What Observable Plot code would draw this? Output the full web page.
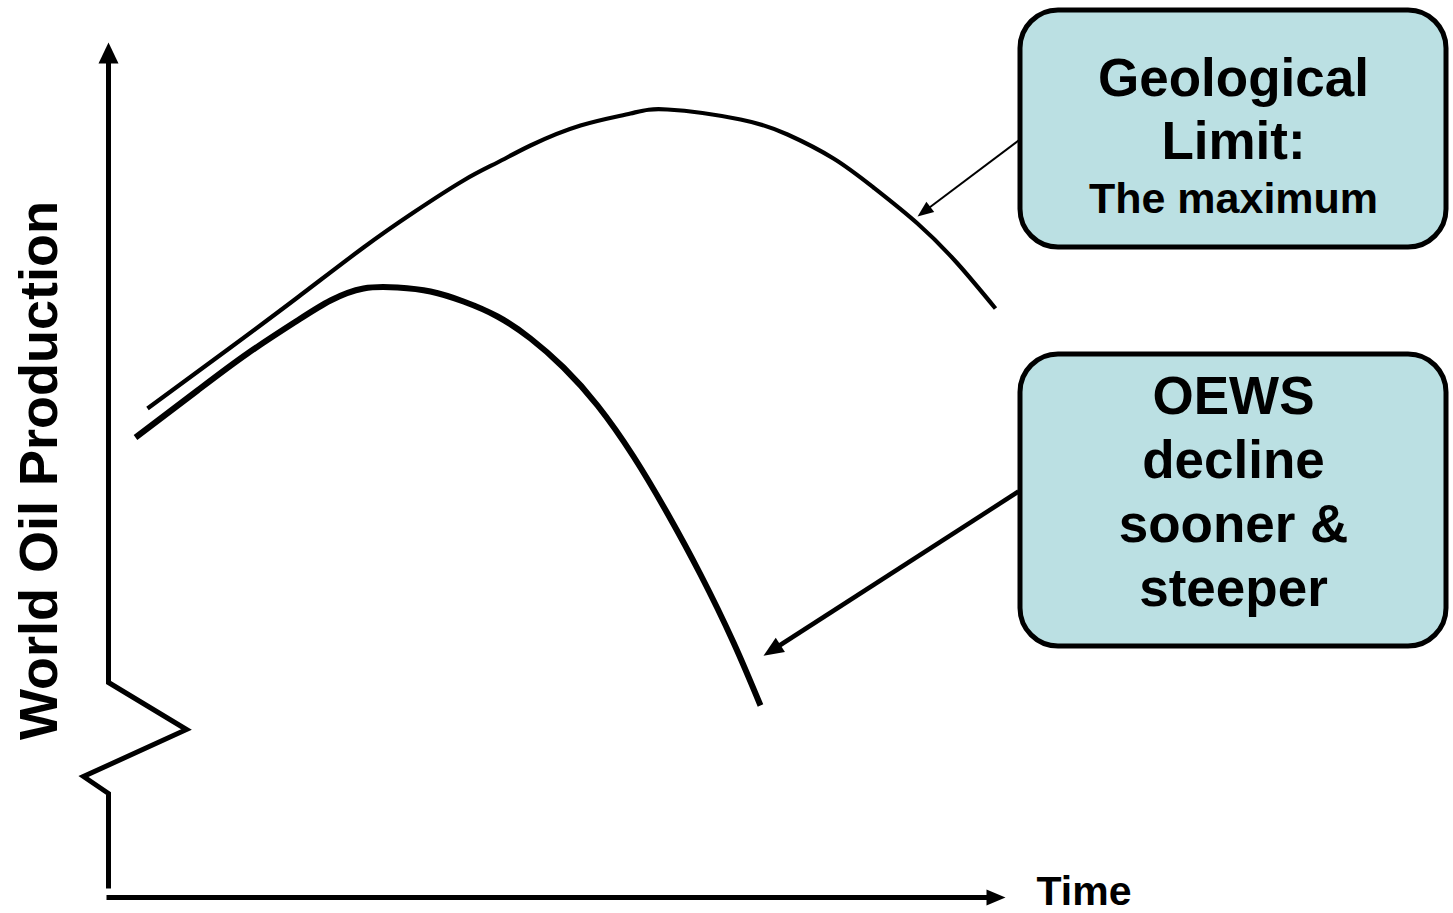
<!DOCTYPE html>
<html>
<head>
<meta charset="utf-8">
<script src="https://cdn.jsdelivr.net/npm/d3@7"></script>
<script src="https://cdn.jsdelivr.net/npm/@observablehq/plot@0.6"></script>
<style>
  html, body { margin: 0; padding: 0; background: #ffffff; }
  #chart { width: 1453px; height: 913px; }
</style>
</head>
<body>
<div id="chart"></div>
<script>
// ---- Data (time units across, production units up) ----
const geoTime = [147, 230, 297, 363, 413, 463, 497, 530, 580, 630, 667, 740, 787, 833, 873, 917, 957, 995];
const geoProd = [505, 566, 616, 666, 701, 733, 751, 768, 788, 800, 804, 794, 779, 755, 726, 690, 650, 605];

const oewsTime = [135, 197, 247, 297, 330, 363, 397, 430, 463, 497, 530, 563, 597, 633, 667, 700, 733, 760];
const oewsProd = [476, 523, 560, 593, 613, 625, 626, 622, 612, 597, 575, 546, 508, 457, 400, 339, 271, 208];

// axis with break (zigzag), drawn bottom -> top
const yAxisTime = [108, 108, 83, 186, 108, 108];
const yAxisProd = [25, 120, 137, 184, 231, 851];
const xAxisTime = [106, 987];
const xAxisProd = [16, 16];

// annotation boxes
const boxNames = ["Geological Limit", "OEWS"];
const boxX1 = [1020, 1020];
const boxX2 = [1446, 1446];
const boxY1 = [666, 267];
const boxY2 = [903, 559];

// pointer arrows from boxes to curves
const arrowX1 = [1018, 1018];
const arrowY1 = [773, 422];
const arrowX2 = [929, 779];
const arrowY2 = [706, 268];
const arrowWidths = [2, 4.5];

// labels
const boxLines = ["Geological", "Limit:", "The maximum", "OEWS", "decline", "sooner &", "steeper"];
const boxLineProd = [818, 755, 701, 500, 436, 372, 308];
const boxLineSize = [53, 53, 43, 53, 53, 53, 53];
const boxCenterTime = 1233;
const yLabel = "World Oil Production";
const xLabel = "Time";

// ---- helpers ----
const toRows = (xs, ys) => xs.map((x, i) => ({x, y: ys[i]}));

// filled triangular arrowhead marker (starts at line end, extends beyond)
function filledHead(len, wid) {
  return (color) => {
    const ns = "http://www.w3.org/2000/svg";
    const m = document.createElementNS(ns, "marker");
    m.setAttribute("viewBox", `0 ${-wid / 2} ${len} ${wid}`);
    m.setAttribute("markerWidth", len);
    m.setAttribute("markerHeight", wid);
    m.setAttribute("markerUnits", "userSpaceOnUse");
    m.setAttribute("orient", "auto");
    m.setAttribute("refX", 1);
    m.setAttribute("refY", 0);
    m.setAttribute("overflow", "visible");
    const p = document.createElementNS(ns, "path");
    p.setAttribute("d", `M0,${-wid / 2}L${len},0L0,${wid / 2}Z`);
    p.setAttribute("fill", color);
    p.setAttribute("stroke", "none");
    m.appendChild(p);
    return m;
  };
}

const boxes = boxNames.map((n, i) => ({n, x1: boxX1[i], x2: boxX2[i], y1: boxY1[i], y2: boxY2[i]}));
const arrows = arrowX1.map((x, i) => ({x1: x, y1: arrowY1[i], x2: arrowX2[i], y2: arrowY2[i], w: arrowWidths[i]}));
const labels = boxLines.map((t, i) => ({t, x: boxCenterTime, y: boxLineProd[i], s: boxLineSize[i]}));

const font = "'Liberation Sans', Arial, Helvetica, sans-serif";

const chart = Plot.plot({
  width: 1453,
  height: 913,
  marginTop: 0, marginRight: 0, marginBottom: 0, marginLeft: 0,
  x: {domain: [0, 1453], axis: null},
  y: {domain: [0, 913], axis: null},
  style: {background: "#ffffff", fontFamily: font, overflow: "visible"},
  marks: [
    // axes
    Plot.line(toRows(yAxisTime, yAxisProd), {
      x: "x", y: "y", stroke: "black", strokeWidth: 5,
      strokeLinecap: "butt", strokeLinejoin: "miter", strokeMiterlimit: 10,
      markerEnd: filledHead(21, 20)
    }),
    Plot.line(toRows(xAxisTime, xAxisProd), {
      x: "x", y: "y", stroke: "black", strokeWidth: 5,
      strokeLinecap: "butt", markerEnd: filledHead(19, 16)
    }),
    // curves
    Plot.line(toRows(geoTime, geoProd), {
      x: "x", y: "y", stroke: "black", strokeWidth: 4.2,
      curve: "natural", strokeLinecap: "butt"
    }),
    Plot.line(toRows(oewsTime, oewsProd), {
      x: "x", y: "y", stroke: "black", strokeWidth: 6,
      curve: "natural", strokeLinecap: "butt"
    }),
    // boxes
    Plot.rect(boxes, {
      x1: "x1", x2: "x2", y1: "y1", y2: "y2",
      fill: "#bbe0e3", stroke: "black", strokeWidth: 5, rx: 38
    }),
    // pointer arrows
    Plot.link([arrows[0]], {
      x1: "x1", y1: "y1", x2: "x2", y2: "y2", stroke: "black",
      strokeWidth: arrows[0].w, strokeLinecap: "butt", markerEnd: filledHead(16, 13)
    }),
    Plot.link([arrows[1]], {
      x1: "x1", y1: "y1", x2: "x2", y2: "y2", stroke: "black",
      strokeWidth: arrows[1].w, strokeLinecap: "butt", markerEnd: filledHead(20, 17)
    }),
    // box text
    Plot.text(labels, {
      x: "x", y: "y", text: "t", fontSize: d => d.s, fontWeight: "bold",
      fill: "black", textAnchor: "middle", lineAnchor: "bottom", fontFamily: font
    }),
    // axis titles
    Plot.text([yLabel], {
      x: 56, y: 443, text: d => d, rotate: -90, fontSize: 54, fontWeight: "bold",
      fill: "black", textAnchor: "middle", lineAnchor: "bottom", fontFamily: font
    }),
    Plot.text([xLabel], {
      x: 1036, y: 9, text: d => d, fontSize: 41, fontWeight: "bold",
      fill: "black", textAnchor: "start", lineAnchor: "bottom", fontFamily: font
    })
  ]
});

document.getElementById("chart").appendChild(chart);
</script>
</body>
</html>
